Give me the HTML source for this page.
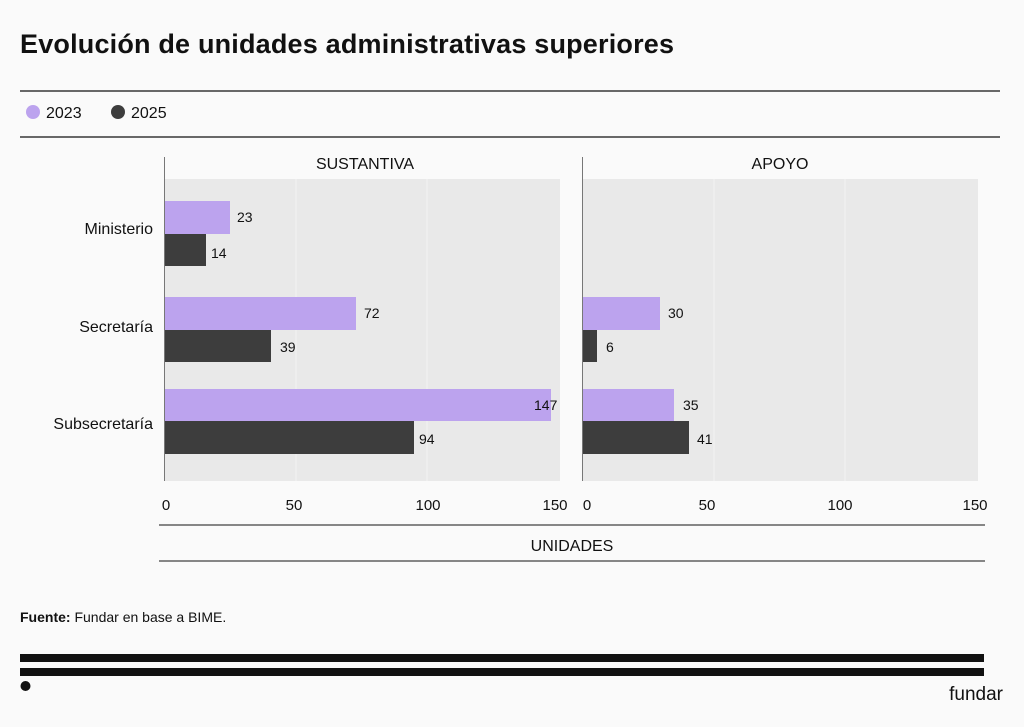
<!DOCTYPE html>
<html><head><meta charset="utf-8"><style>
body{margin:0;background:#fafafa;}
svg{display:block;font-family:"Liberation Sans",sans-serif;}
</style></head><body>
<svg width="1024" height="727" viewBox="0 0 1024 727">
<rect width="1024" height="727" fill="#fafafa"/>
<text x="20" y="53" font-size="27" font-weight="bold" fill="#111" textLength="654">Evolución de unidades administrativas superiores</text>
<line x1="20" y1="91" x2="1000" y2="91" stroke="#111" stroke-width="1.2"/>
<line x1="20" y1="137" x2="1000" y2="137" stroke="#111" stroke-width="1.2"/>
<circle cx="33" cy="112" r="7" fill="#bca3ee"/>
<text x="46" y="118" font-size="16" fill="#111">2023</text>
<circle cx="118" cy="112" r="7" fill="#3d3d3d"/>
<text x="131" y="118" font-size="16" fill="#111">2025</text>
<rect x="165" y="179" width="395" height="302" fill="#e9e9e9"/>
<line x1="296" y1="179" x2="296" y2="481" stroke="#f2f2f2"/>
<line x1="427" y1="179" x2="427" y2="481" stroke="#f2f2f2"/>
<line x1="164.5" y1="157" x2="164.5" y2="481" stroke="#777"/>
<text x="365" y="169" font-size="16" text-anchor="middle" fill="#111">SUSTANTIVA</text>
<rect x="165" y="201" width="65" height="33" fill="#bca3ee"/>
<rect x="165" y="234" width="41" height="32" fill="#3d3d3d"/>
<rect x="165" y="297" width="191" height="33" fill="#bca3ee"/>
<rect x="165" y="330" width="106" height="32" fill="#3d3d3d"/>
<rect x="165" y="389" width="386" height="32" fill="#bca3ee"/>
<rect x="165" y="421" width="249" height="33" fill="#3d3d3d"/>
<g font-size="14" fill="#111">
<text x="237" y="222">23</text><text x="211" y="258">14</text>
<text x="364" y="318">72</text><text x="280" y="352">39</text>
<text x="534" y="410">147</text><text x="419" y="444">94</text>
</g>
<rect x="583" y="179" width="395" height="302" fill="#e9e9e9"/>
<line x1="714" y1="179" x2="714" y2="481" stroke="#f2f2f2"/>
<line x1="845" y1="179" x2="845" y2="481" stroke="#f2f2f2"/>
<line x1="582.5" y1="157" x2="582.5" y2="481" stroke="#777"/>
<text x="780" y="169" font-size="16" text-anchor="middle" fill="#111">APOYO</text>
<rect x="583" y="297" width="77" height="33" fill="#bca3ee"/>
<rect x="583" y="330" width="14" height="32" fill="#3d3d3d"/>
<rect x="583" y="389" width="91" height="32" fill="#bca3ee"/>
<rect x="583" y="421" width="106" height="33" fill="#3d3d3d"/>
<g font-size="14" fill="#111">
<text x="668" y="318">30</text><text x="606" y="352">6</text>
<text x="683" y="410">35</text><text x="697" y="444">41</text>
</g>
<g font-size="16" fill="#111" text-anchor="end">
<text x="153" y="234">Ministerio</text>
<text x="153" y="332">Secretaría</text>
<text x="153" y="429">Subsecretaría</text>
</g>
<g font-size="15" fill="#111" text-anchor="middle">
<text x="166" y="510">0</text><text x="294" y="510">50</text><text x="428" y="510">100</text><text x="555" y="510">150</text>
<text x="587" y="510">0</text><text x="707" y="510">50</text><text x="840" y="510">100</text><text x="975" y="510">150</text>
</g>
<line x1="159" y1="525" x2="985" y2="525" stroke="#111"/>
<line x1="159" y1="561" x2="985" y2="561" stroke="#111"/>
<text x="572" y="551" font-size="16" text-anchor="middle" fill="#111">UNIDADES</text>
<text x="20" y="622" font-size="14" fill="#111"><tspan font-weight="bold">Fuente:</tspan> Fundar en base a BIME.</text>
<rect x="20" y="654" width="964" height="8" fill="#111"/>
<rect x="20" y="668" width="964" height="8" fill="#111"/>
<circle cx="25.5" cy="686" r="5" fill="#111"/>
<text x="1003" y="700" font-size="19" text-anchor="end" fill="#111">fundar</text>
</svg>
</body></html>
